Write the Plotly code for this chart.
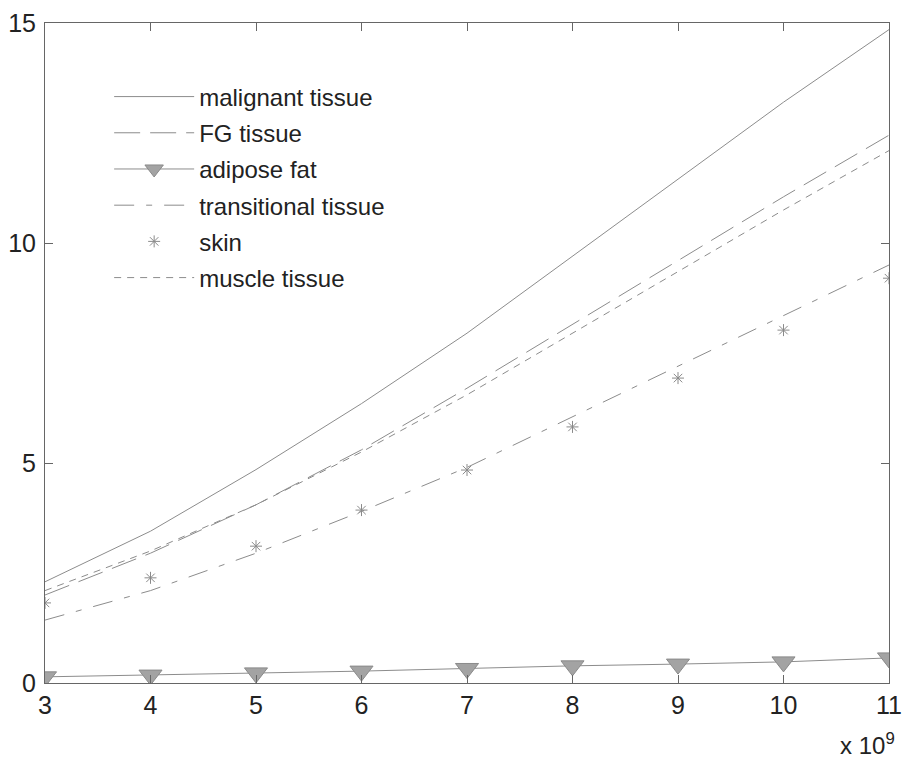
import plotly.graph_objects as go

freq = [3, 4, 5, 6, 7, 8, 9, 10, 11]  # x 10^9
malignant = [2.3, 3.45, 4.85, 6.35, 7.95, 9.7, 11.45, 13.2, 14.85]
fg = [2.0, 2.95, 4.05, 5.3, 6.7, 8.15, 9.6, 11.05, 12.45]
adipose = [0.14, 0.18, 0.23, 0.27, 0.33, 0.39, 0.43, 0.48, 0.57]
transitional = [1.43, 2.1, 2.95, 3.9, 4.9, 6.05, 7.2, 8.35, 9.5]
skin = [1.82, 2.39, 3.11, 3.93, 4.84, 5.82, 6.93, 8.02, 9.2]
muscle = [2.1, 3.0, 4.05, 5.25, 6.55, 7.95, 9.35, 10.75, 12.1]

names = ["malignant tissue", "FG tissue", "adipose fat",
         "transitional tissue", "skin", "muscle tissue"]

LC = "#8c8c8c"
FONT = "Liberation Sans, Arial"
fig = go.Figure()
fig.add_trace(go.Scatter(x=freq, y=malignant, name=names[0], mode="lines",
                         line=dict(color=LC, width=1), legendgroup="a"))
fig.add_trace(go.Scatter(x=freq, y=fg, name=names[1], mode="lines",
                         line=dict(color=LC, width=1, dash="26px,10px"), legendgroup="b"))
fig.add_trace(go.Scatter(x=freq, y=adipose, name=names[2], mode="lines+markers",
                         line=dict(color=LC, width=1),
                         marker=dict(symbol="triangle-down", size=20, color="#a3a3a3",
                                     line=dict(color="#8a8a8a", width=1)), legendgroup="c"))
fig.add_trace(go.Scatter(x=freq, y=transitional, name=names[3], mode="lines",
                         line=dict(color=LC, width=1, dash="20px,12px,6px,12px"), legendgroup="d"))
fig.add_trace(go.Scatter(x=freq, y=skin, name=names[4], mode="markers",
                         marker=dict(symbol="asterisk-open", size=10, color="#8a8a8a",
                                     line=dict(color="#8a8a8a", width=1)), legendgroup="e"))
fig.add_trace(go.Scatter(x=freq, y=muscle, name=names[5], mode="lines",
                         line=dict(color=LC, width=1, dash="7px,6px"), legendgroup="f"))

axis_common = dict(showgrid=False, zeroline=False, showline=True, mirror="ticks",
                   linecolor="#666666", linewidth=1, ticks="inside", ticklen=8,
                   tickcolor="#666666", automargin=False,
                   tickfont=dict(family=FONT, size=25, color="#222222"))

fig.update_layout(
    width=910, height=763,
    margin=dict(l=45, r=21, t=23, b=80),
    paper_bgcolor="white", plot_bgcolor="white",
    xaxis=dict(range=[3, 11], tickvals=freq, ticktext=[str(v) for v in freq], **axis_common),
    yaxis=dict(range=[0, 15], tickvals=[0, 5, 10, 15], ticklabelstandoff=3, **axis_common),
    legend=dict(x=0.076, y=0.922, xanchor="left", yanchor="top",
                bgcolor="rgba(0,0,0,0)", borderwidth=0,
                font=dict(family=FONT, size=24, color="#222222"),
                traceorder="grouped", tracegroupgap=2, itemwidth=80),
    showlegend=True,
)
fig.add_annotation(text="x 10<sup>9</sup>", xref="paper", yref="paper",
                   x=1.01, y=-0.093, xanchor="right", yanchor="middle", showarrow=False,
                   font=dict(family=FONT, size=24, color="#222222"))

fig.write_html("out.html")
